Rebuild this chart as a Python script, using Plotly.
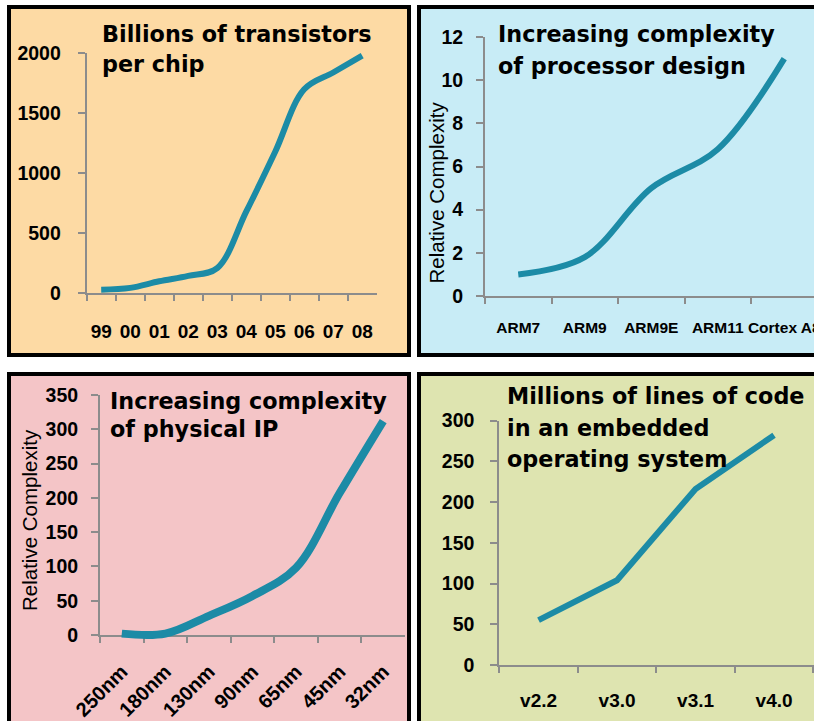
import plotly.graph_objects as go

W, H = 814, 721

# ---- data ---------------------------------------------------------------
years = ["99", "00", "01", "02", "03", "04", "05", "06", "07", "08"]
transistors = [30, 45, 100, 145, 210, 680, 1180, 1700, 1840, 1980]

cores = ["ARM7", "ARM9", "ARM9E", "ARM11", "Cortex A8"]
core_complexity = [1.0, 1.8, 5.0, 6.8, 11.0]

nodes = ["250nm", "180nm", "130nm", "90nm", "65nm", "45nm", "32nm"]
physical_complexity = [2, 2, 28, 57, 98, 207, 312]

versions = ["v2.2", "v3.0", "v3.1", "v4.0"]
code_lines = [55, 104, 216, 282]

# ---- style --------------------------------------------------------------
TEAL = "#1c8ba6"
AXIS = "#8c8c8c"
SANS = "Liberation Sans, Arial, sans-serif"
TITLE_FONT = dict(family="DejaVu Sans", size=22.3, color="black", weight="bold")
YTICK_FONT = dict(family=SANS, size=19.5, color="black", weight="bold")
XTICK_FONT = dict(family=SANS, size=19, color="black", weight="bold")
CORE_FONT = dict(family=SANS, size=15.5, color="black", weight="bold")
NODE_FONT = dict(family=SANS, size=20, color="black", weight="bold")
YTITLE_FONT = dict(family=SANS, size=20.5, color="black")


def fx(p):
    return p / W


def fy(p):
    return 1 - p / H


panels = [
    dict(labels=years, values=transistors, fill="#fddaa4",
         box=(9, 7, 409, 355), xpx=(86.7, 376.7), xmax=9.5,
         ypx=(53.3, 293.3), yrange=(0, 2000), dtick=500,
         xfont=XTICK_FONT, xstand=20, xangle=0, ystand=13, width=6, shape="spline",
         title=[("Billions of transistors", 100, 34), ("per chip", 100, 64)], ytitle=None),
    dict(labels=cores, values=core_complexity, fill="#c8ecf6",
         box=(419, 7, 840, 355), xpx=(485, 814), xmax=-0.5 + (814 - 485) / 66.5,
         ypx=(37, 296), yrange=(0, 12), dtick=2,
         xfont=CORE_FONT, xstand=16, xangle=0, ystand=9, width=6, shape="spline",
         title=[("Increasing complexity", 496, 34), ("of processor design", 496, 65.6)],
         ytitle=(436, 192.5)),
    dict(labels=nodes, values=physical_complexity, fill="#f4c5c7",
         box=(9, 374, 409, 740), xpx=(100, 405), xmax=6.5,
         ypx=(395, 635), yrange=(0, 350), dtick=50,
         xfont=NODE_FONT, xstand=15, xangle=-45, ystand=9, width=8, shape="spline",
         title=[("Increasing complexity", 108, 400.6), ("of physical IP", 108, 429.3)],
         ytitle=(29, 520)),
    dict(labels=versions, values=code_lines, fill="#dee4b0",
         box=(419, 374, 840, 740), xpx=(499.3, 814), xmax=-0.5 + (814 - 499.3) / 78.5,
         ypx=(420.5, 665), yrange=(0, 300), dtick=50,
         xfont=XTICK_FONT, xstand=17, xangle=0, ystand=12, width=6, shape="linear",
         title=[("Millions of lines of code", 505, 395.6), ("in an embedded", 505, 428),
                ("operating system", 505, 459)], ytitle=None),
]

fig = go.Figure()
layout = dict(width=W, height=H, margin=dict(l=0, r=0, t=0, b=0),
              paper_bgcolor="white", plot_bgcolor="rgba(0,0,0,0)",
              showlegend=False, shapes=[], annotations=[])

PAD = 12
n_pan = len(panels)
for i, p in enumerate(panels):
    vis = i + 1             # axes with ticks and labels
    ov = i + 1 + n_pan      # hidden axes carrying the curve (larger clip box)
    n = len(p["labels"])
    x0p, x1p = p["xpx"]
    yt, yb = p["ypx"]
    xr = (-0.5, p["xmax"])
    yr = p["yrange"]

    # coloured panel with black frame
    bx0, by0, bx1, by1 = p["box"]
    layout["shapes"].append(dict(type="rect", xref="paper", yref="paper", layer="below",
                                 x0=fx(bx0), x1=fx(bx1), y0=fy(by1), y1=fy(by0),
                                 fillcolor=p["fill"], line=dict(color="black", width=4)))

    sx = "" if vis == 1 else str(vis)
    layout["xaxis" + sx] = dict(
        domain=[fx(x0p), fx(x1p)], range=list(xr), anchor="y" + sx,
        type="category", categoryorder="array", categoryarray=p["labels"],
        tickson="boundaries", ticks="outside", ticklen=6, tickwidth=2, tickcolor=AXIS,
        showline=True, linecolor=AXIS, linewidth=2,
        showgrid=False, zeroline=False, tickfont=p["xfont"], tickangle=p["xangle"],
        ticklabelstandoff=p["xstand"], automargin=False, fixedrange=True,
    )
    layout["yaxis" + sx] = dict(
        domain=[fy(yb), fy(yt)], range=list(yr), anchor="x" + sx,
        tick0=0, dtick=p["dtick"], ticks="outside", ticklen=7, tickwidth=2, tickcolor=AXIS,
        showline=True, linecolor=AXIS, linewidth=2, showgrid=False, zeroline=False,
        tickfont=YTICK_FONT, ticklabelstandoff=p["ystand"], automargin=False, fixedrange=True,
    )
    # transparent copy so the category axis knows its categories
    fig.add_trace(go.Scatter(
        x=p["labels"], y=p["values"], mode="lines", opacity=0,
        line=dict(color=TEAL, width=1), xaxis="x" + sx, yaxis="y" + sx,
        hoverinfo="skip", showlegend=False))

    # hidden axes: same scale, slightly larger domain so the thick curve is not cut
    ux = (xr[1] - xr[0]) / (x1p - x0p)
    uy = (yr[1] - yr[0]) / (yb - yt)
    el, er = min(PAD, x0p), min(PAD, W - x1p)
    et, eb = min(PAD, yt), min(PAD, H - yb)
    so = str(ov)
    layout["xaxis" + so] = dict(domain=[fx(x0p - el), fx(x1p + er)],
                                range=[xr[0] - el * ux, xr[1] + er * ux],
                                anchor="y" + so, visible=False, fixedrange=True)
    layout["yaxis" + so] = dict(domain=[fy(yb + eb), fy(yt - et)],
                                range=[yr[0] - eb * uy, yr[1] + et * uy],
                                anchor="x" + so, visible=False, fixedrange=True)

    fig.add_trace(go.Scatter(
        x=list(range(n)), y=p["values"], mode="lines",
        line=dict(color=TEAL, width=p["width"], shape=p["shape"], smoothing=1.0),
        xaxis="x" + so, yaxis="y" + so, hoverinfo="skip", showlegend=False))

    for text, tx, ty in p["title"]:
        layout["annotations"].append(dict(
            text=text, x=fx(tx), y=fy(ty), xref="paper", yref="paper",
            xanchor="left", yanchor="middle", showarrow=False, font=TITLE_FONT))
    if p["ytitle"]:
        tx, ty = p["ytitle"]
        layout["annotations"].append(dict(
            text="Relative Complexity", x=fx(tx), y=fy(ty), xref="paper", yref="paper",
            xanchor="center", yanchor="middle", textangle=-90, showarrow=False,
            font=YTITLE_FONT))

fig.update_layout(**layout)
fig.write_html("out.html")
